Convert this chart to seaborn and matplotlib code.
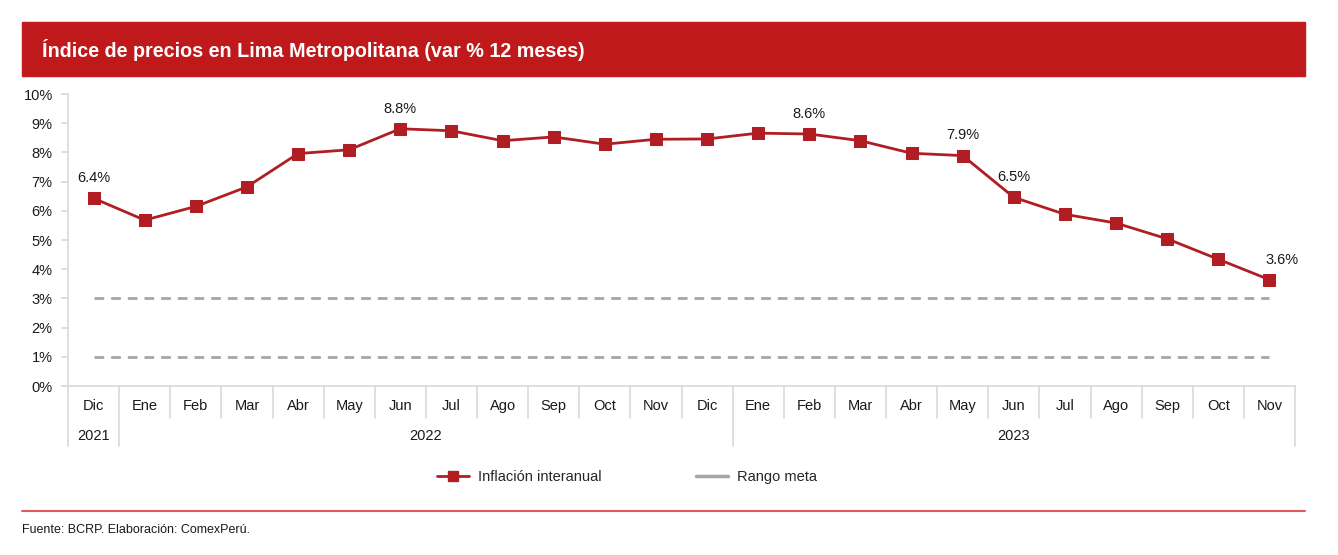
import matplotlib
matplotlib.use("Agg")
import matplotlib.pyplot as plt
import matplotlib.patches as mpatches
from matplotlib.lines import Line2D
import seaborn as sns
import pandas as pd
import numpy as np

months = ["Dic", "Ene", "Feb", "Mar", "Abr", "May", "Jun", "Jul", "Ago", "Sep", "Oct", "Nov",
          "Dic", "Ene", "Feb", "Mar", "Abr", "May", "Jun", "Jul", "Ago", "Sep", "Oct", "Nov"]
years = ["2021", "2022", "2023"]
year_spans = [(0, 0), (1, 12), (13, 23)]
inflation = [6.43, 5.68, 6.15, 6.82, 7.96, 8.09, 8.81, 8.74, 8.40, 8.53, 8.28, 8.45,
             8.46, 8.66, 8.63, 8.40, 7.97, 7.89, 6.46, 5.88, 5.58, 5.04, 4.34, 3.64]
target_low = 1.0
target_high = 3.0
labeled_idx = [0, 6, 14, 17, 18, 23]
yticks = list(range(0, 11))

sns.set_theme(style="white")
plt.rcParams["font.family"] = ["Liberation Sans", "DejaVu Sans"]

RED = "#B01E23"
BANNER = "#C0191C"
GRAY = "#A6A6A6"
AXC = "#D9D9D9"

fig = plt.figure(figsize=(13.38, 5.55), dpi=100)
W, H = 1338, 555

def fx(px):
    return px / W

def fy(py):
    return 1 - py / H

# Title banner
fig.patches.append(mpatches.Rectangle((fx(22), fy(76)), fx(1305) - fx(22), fy(22) - fy(76),
                                      transform=fig.transFigure, color=BANNER, zorder=0))
fig.text(fx(42), fy(50), "Índice de precios en Lima Metropolitana (var % 12 meses)",
         color="white", fontsize=14.2, fontweight="bold", va="center", ha="left")

ax = fig.add_axes([fx(68), fy(386), fx(1295) - fx(68), fy(94) - fy(386)])

df = pd.DataFrame({"x": np.arange(len(inflation)), "y": inflation})
n = len(inflation)

# target range lines
for v in (target_low, target_high):
    sns.lineplot(x=[0, n - 1], y=[v, v], ax=ax, color=GRAY, lw=2, linestyle=(0, (3.5, 2.5)),
                 zorder=2)

sns.lineplot(data=df, x="x", y="y", ax=ax, color=RED, lw=2, marker="s", markersize=8,
             markeredgecolor=RED, markerfacecolor=RED, zorder=3)

for i in labeled_idx:
    dx = 0.25 if i == n - 1 else 0
    ax.text(i + dx, inflation[i] + 0.45, f"{inflation[i]:.1f}%", ha="center", va="bottom",
            fontsize=10.5, color="#1a1a1a")

ax.set_xlim(-0.5, n - 0.5)
ax.set_ylim(0, 10)
ax.set_yticks(yticks)
ax.set_yticklabels([f"{t}%" for t in yticks], fontsize=10.5, color="#1a1a1a")
ax.set_xticks([])
ax.set_xlabel("")
ax.set_ylabel("")
for s in ["top", "right"]:
    ax.spines[s].set_visible(False)
for s in ["left", "bottom"]:
    ax.spines[s].set_color(AXC)
    ax.spines[s].set_linewidth(1.2)
ax.tick_params(axis="y", which="both", left=True, length=5, color=AXC, width=1.2, pad=6)
ax.grid(False)

trans = ax.get_xaxis_transform()
# month labels and separators
for i, m in enumerate(months):
    ax.text(i, -0.068, m, transform=trans, ha="center", va="center", fontsize=10.5,
            color="#1a1a1a", clip_on=False)
year_bounds = set([s[0] for s in year_spans] + [n])
for b in range(0, n + 1):
    bottom = -0.205 if b in year_bounds else -0.11
    ax.plot([b - 0.5, b - 0.5], [0, bottom], transform=trans, color=AXC, lw=1.2,
            clip_on=False)
for yr, (a, b) in zip(years, year_spans):
    ax.text((a + b) / 2, -0.171, yr, transform=trans, ha="center", va="center",
            fontsize=10.5, color="#1a1a1a", clip_on=False)

# legend
handles = [Line2D([0], [0], color=RED, lw=2, marker="s", markersize=7),
           Line2D([0], [0], color=GRAY, lw=2.5)]
fig.legend(handles, ["Inflación interanual", "Rango meta"], loc="center",
           bbox_to_anchor=(fx(627), fy(477)), ncol=2, frameon=False, fontsize=10.5,
           handlelength=2.2, columnspacing=6.5, handletextpad=0.6)

# footer
fig.lines.append(Line2D([fx(22), fx(1305)], [fy(511), fy(511)], transform=fig.transFigure,
                        color="#E05A5F", lw=1.5))
fig.text(fx(22), fy(530), "Fuente: BCRP. Elaboración: ComexPerú.", fontsize=9,
         color="#1a1a1a", va="center", ha="left")

fig.savefig("out.png", dpi=100)
